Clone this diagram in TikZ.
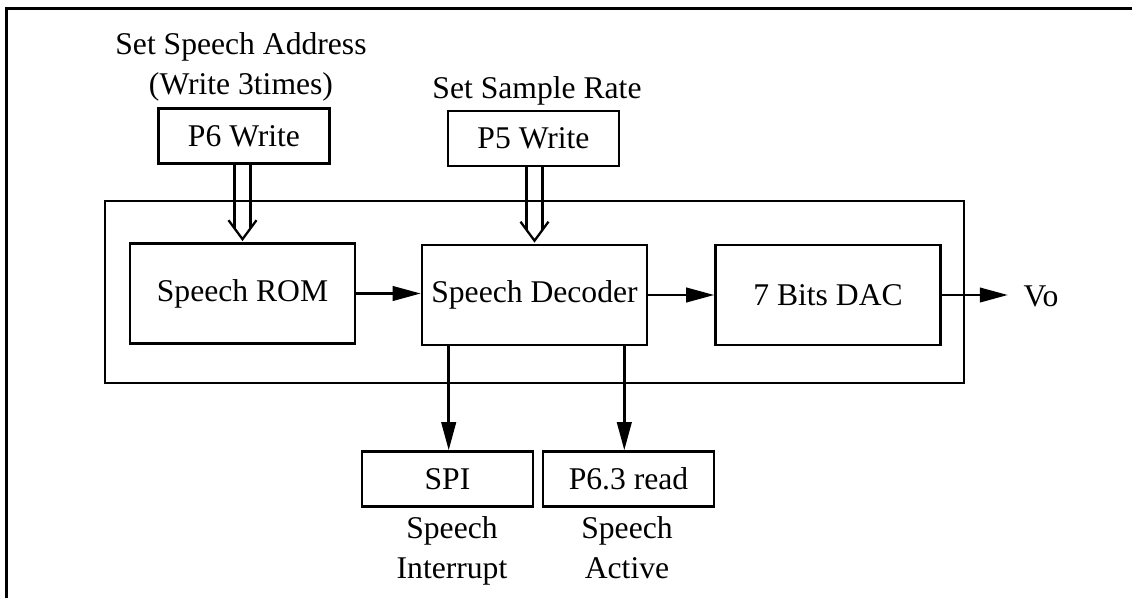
\documentclass[tikz,border=0pt]{standalone}
\usepackage{fontspec}
\setmainfont{Liberation Serif}
\usetikzlibrary{arrows.meta,calc}

\tikzset{
  blk/.style={draw, line width=1.5pt, inner sep=0pt, minimum width=4.5cm, minimum height=2cm},
  port/.style={draw, line width=1.5pt, inner sep=0pt, minimum width=3.42cm, minimum height=1.1cm},
  sig/.style={line width=1.4pt, -{Triangle[length=0.56cm,width=0.29cm]}},
  bus/.style={line width=1.3pt},
  txt/.style={align=center, inner sep=0pt}
}

\begin{document}
\begin{tikzpicture}[x=0.02cm, y=-0.02cm, font=\fontsize{18}{22.7}\selectfont]
  \useasboundingbox (0,0) rectangle (1132,598);
  \draw[line width=1.7pt] (6.5,598) -- (6.5,8.5) -- (1132,8.5);

  % chip with its three blocks
  \node[draw, line width=1.5pt, minimum width=17.18cm, minimum height=3.64cm] (chip) at (534.5,292) {};
  \node[blk] (rom) at (242.5,293.5) {Speech ROM};
  \node[blk] (dec) at (534.5,295) {Speech Decoder};
  \node[blk] (dac) at (828,295) {7 Bits DAC};

  % ports
  \node[port] (p6w) at (244,136) {P6 Write};
  \node[port] (p5w) at (533.5,138.5) {P5 Write};
  \node[port] (spi) at (447.5,479) {SPI};
  \node[port] (p63) at (628.5,479) {P6.3 read};

  \node[txt] (adr) at (241,67) {Set Speech Address\\(Write 3times)};
  \node[txt] (rate) at (537,91) {Set Sample Rate};
  \node[txt, anchor=north] (irq) at (452,516) {Speech\\Interrupt};
  \node[txt, anchor=north] (act) at (627,516) {Speech\\Active};
  \node[txt] (vo) at (1041,296) {Vo};

  % data path
  \coordinate (out) at ($(dac.east)+(66,0)$);
  \draw[sig] (rom.east) -- (rom.east -| dec.west);
  \draw[sig] (dec.east) -- (dec.east -| dac.west);
  \draw[sig] (dac.east) -- (out);

  % write buses
  \foreach \src/\dst in {p6w/rom, p5w/dec}{
    \foreach \s in {-8,8}{
      \draw[bus] ($(\src.south -| \dst.north)+(\s,0)$) -- ($(\dst.north)+(\s,-14)$);
    }
    \draw[bus] ($(\dst.north)+(-14,-22)$) -- ($(\dst.north)+(0,-3)$) -- ($(\dst.north)+(14,-22)$);
  }

  % status outputs
  \coordinate (d1) at ($(dec.south west)+(28,0)$);
  \coordinate (d2) at ($(dec.south east)+(-24,0)$);
  \draw[sig] (d1) -- (d1 |- spi.north);
  \draw[sig] (d2) -- (d2 |- p63.north);
\end{tikzpicture}
\end{document}
